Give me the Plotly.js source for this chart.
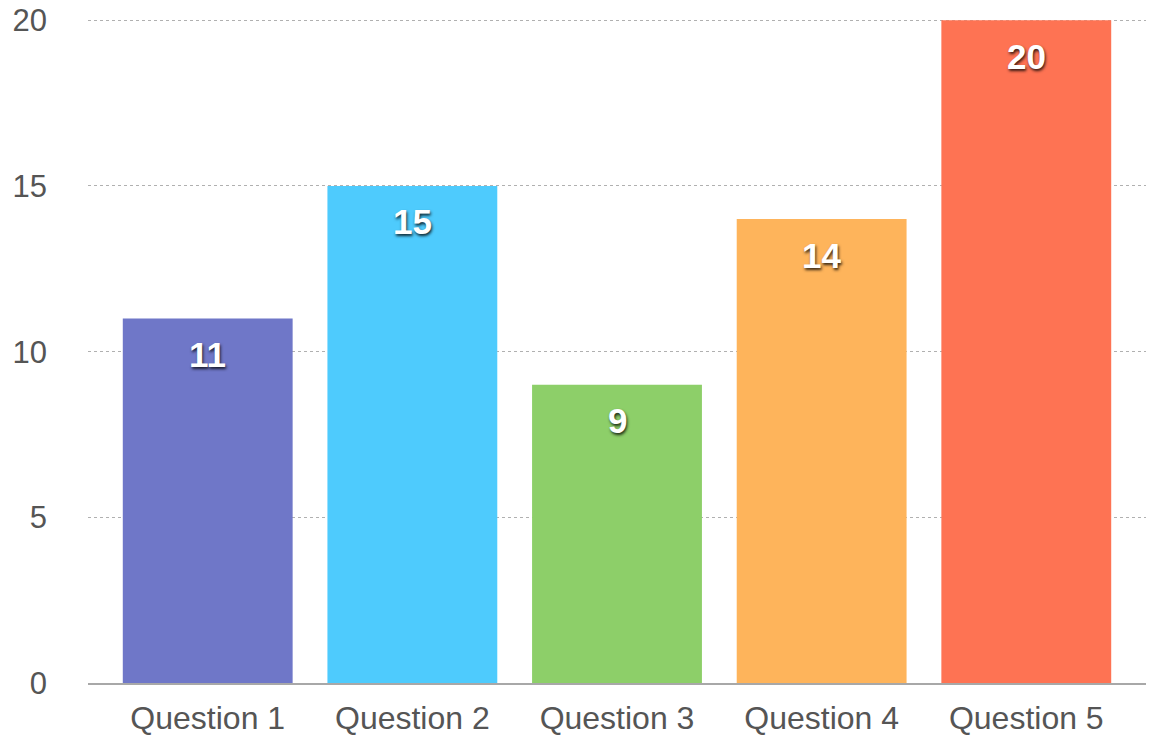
<!DOCTYPE html>
<html>
<head>
<meta charset="utf-8">
<script src="https://cdn.plot.ly/plotly-3.0.1.min.js"></script>
<style>html,body{margin:0;padding:0;background:#fff;}#chart{width:1151px;height:736px;}</style>
</head>
<body>
<div id="chart"></div>
<script>
const categories = ["Question 1", "Question 2", "Question 3", "Question 4", "Question 5"];
const values = [11, 15, 9, 14, 20];
const barColors = ["#6f77c8", "#4ecbfd", "#8dcf69", "#feb45b", "#fe7353"];
const yTicks = [0, 5, 10, 15, 20];

const trace = {
  type: "bar",
  x: categories,
  y: values,
  marker: { color: barColors, line: { width: 0 } },
  hoverinfo: "none"
};

const annotations = categories.map((c, i) => ({
  x: c,
  y: values[i],
  text: String(values[i]),
  showarrow: false,
  yanchor: "middle",
  yshift: -36,
  font: {
    family: "Liberation Sans, Arial, sans-serif",
    size: 35,
    color: "#ffffff",
    weight: "bold",
    shadow: "1px 2px 3px rgba(0,0,0,0.8)"
  }
}));

const layout = {
  width: 1151,
  height: 736,
  margin: { l: 88, r: 5, t: 17, b: 53 },
  paper_bgcolor: "#ffffff",
  plot_bgcolor: "#ffffff",
  showlegend: false,
  bargap: 0.17,
  font: { family: "Liberation Sans, Arial, sans-serif", color: "#555555", size: 32 },
  xaxis: {
    type: "category",
    range: [-0.585, 4.585],
    showgrid: false,
    showline: true,
    linecolor: "#a8a8a8",
    linewidth: 1.5,
    ticks: "",
    ticklabelstandoff: 6,
    tickfont: { size: 32, color: "#555555" },
    zeroline: false,
    fixedrange: true
  },
  yaxis: {
    range: [0, 20.1],
    tickvals: yTicks,
    ticktext: yTicks.map(String),
    showgrid: true,
    gridcolor: "#b0b0b0",
    griddash: "dot",
    gridwidth: 1,
    zeroline: false,
    showline: false,
    ticks: "",
    ticklabelstandoff: 40,
    tickfont: { size: 31, color: "#555555" },
    fixedrange: true
  },
  annotations: annotations
};

Plotly.newPlot("chart", [trace], layout, { displayModeBar: false, staticPlot: true });
</script>
</body>
</html>
